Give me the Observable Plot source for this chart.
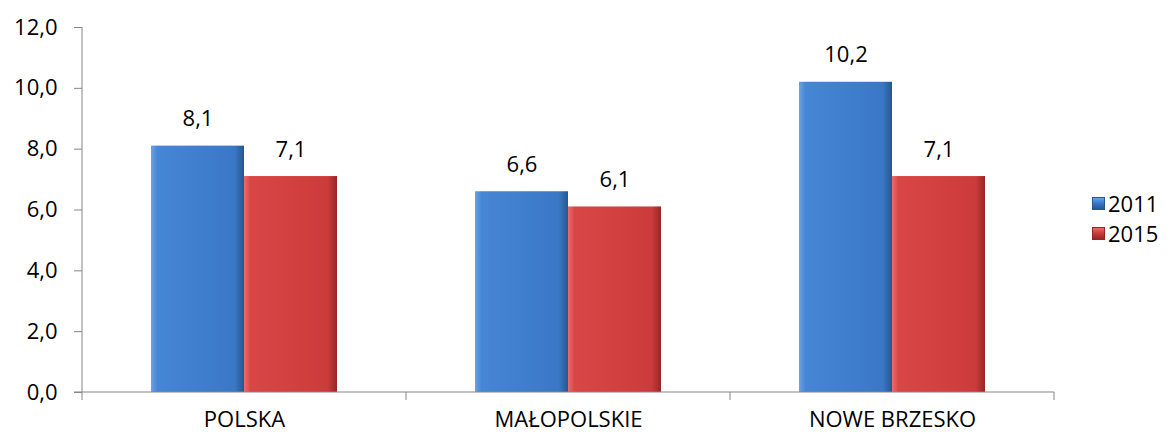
<!DOCTYPE html>
<html><head><meta charset="utf-8">
<script src="https://cdn.jsdelivr.net/npm/d3@7"></script>
<script src="https://cdn.jsdelivr.net/npm/@observablehq/plot@0.6"></script>
<style>
body{margin:0;background:#fff;font-family:"Open Sans",sans-serif}
#c{position:relative;width:1170px;height:434px}
.lg{position:absolute;left:1092px;font-size:22px;line-height:26px;display:flex;align-items:center;color:#000}
.sw{width:13px;height:13px;margin-right:3px;box-sizing:border-box}
</style></head><body><div id="c"></div>
<script>
const categories = ["POLSKA", "MAŁOPOLSKIE", "NOWE BRZESKO"];
const years = ["2011", "2015"];
const values2011 = [8.1, 6.6, 10.2];
const values2015 = [7.1, 6.1, 7.1];
const yTicks = [0, 2, 4, 6, 8, 10, 12];
const yearColors = {"2011": "#3d7ecf", "2015": "#d23f3f"};

const data = categories.flatMap((c, i) => [
  {category: c, year: years[0], value: values2011[i]},
  {category: c, year: years[1], value: values2015[i]}
]);
const fmt = v => v.toFixed(1).replace(".", ",");

const plot = Plot.plot({
  width: 1170, height: 434,
  marginLeft: 81, marginRight: 116, marginTop: 27, marginBottom: 42,
  style: {fontFamily: '"Open Sans",sans-serif', fontSize: "22px", color: "#000", background: "#fff"},
  fx: {domain: categories, padding: 0, label: null, axis: null},
  x: {domain: years, paddingInner: 0, paddingOuter: 0.74, axis: null},
  y: {domain: [0, 12], axis: null},
  color: {type: "identity"},
  marks: [
    Plot.axisY({ticks: yTicks, tickFormat: fmt, tickSize: 8, tickPadding: 17, stroke: "#868686", fill: "#000", label: null, fontSize: 22}),
    Plot.axisFx({anchor: "bottom", tickSize: 0, tickPadding: 19, label: null, fill: "#000", fontSize: 22}),
    Plot.barY(data, {fx: "category", x: "year", y: "value", fill: d => `url(#g${d.year})`}),
    Plot.text(data, {fx: "category", x: "year", y: "value", text: d => fmt(d.value), dy: -27, fill: "#000", fontSize: 22})
  ]
});

// gradients for bevelled bars
const svg = d3.select(plot);
const defs = svg.insert("defs", ":first-child");
const grads = {
  "2011": [["0", "#6aa3e6"], ["0.07", "#4586d5"], ["0.9", "#3a78c6"], ["1", "#26568f"]],
  "2015": [["0", "#ec6b6b"], ["0.07", "#d94646"], ["0.9", "#cc3b3b"], ["1", "#952626"]]
};
for (const y of years) {
  const g = defs.append("linearGradient").attr("id", "g" + y).attr("x1", 0).attr("x2", 1).attr("y1", 0).attr("y2", 0);
  for (const [o, c] of grads[y]) g.append("stop").attr("offset", o).attr("stop-color", c);
}

// axis lines and category boundary ticks
const fx = plot.scale("fx"), ys = plot.scale("y");
const y0 = ys.apply(0), yTop = ys.apply(12);
const left = fx.apply(categories[0]);
const right = fx.apply(categories[categories.length - 1]) + fx.step;
const g = svg.append("g").attr("stroke", "#868686").attr("stroke-width", 1);
g.append("line").attr("x1", left).attr("x2", left).attr("y1", yTop).attr("y2", y0 + 8);
g.append("line").attr("x1", left - 8).attr("x2", right).attr("y1", y0).attr("y2", y0);
for (let i = 1; i <= categories.length; i++) {
  const x = left + i * fx.step;
  g.append("line").attr("x1", x).attr("x2", x).attr("y1", y0).attr("y2", y0 + 8);
}

const c = document.getElementById("c");
c.appendChild(plot);
years.forEach((y, i) => {
  const d = document.createElement("div");
  d.className = "lg";
  d.style.top = (190 + i * 30) + "px";
  const s = document.createElement("div");
  s.className = "sw";
  s.style.background = `linear-gradient(180deg, ${grads[y][0][1]}, ${yearColors[y]} 40%, ${grads[y][3][1]})`;
  s.style.border = "1px solid " + grads[y][3][1];
  d.appendChild(s);
  d.appendChild(document.createTextNode(y));
  c.appendChild(d);
});
</script></body></html>
